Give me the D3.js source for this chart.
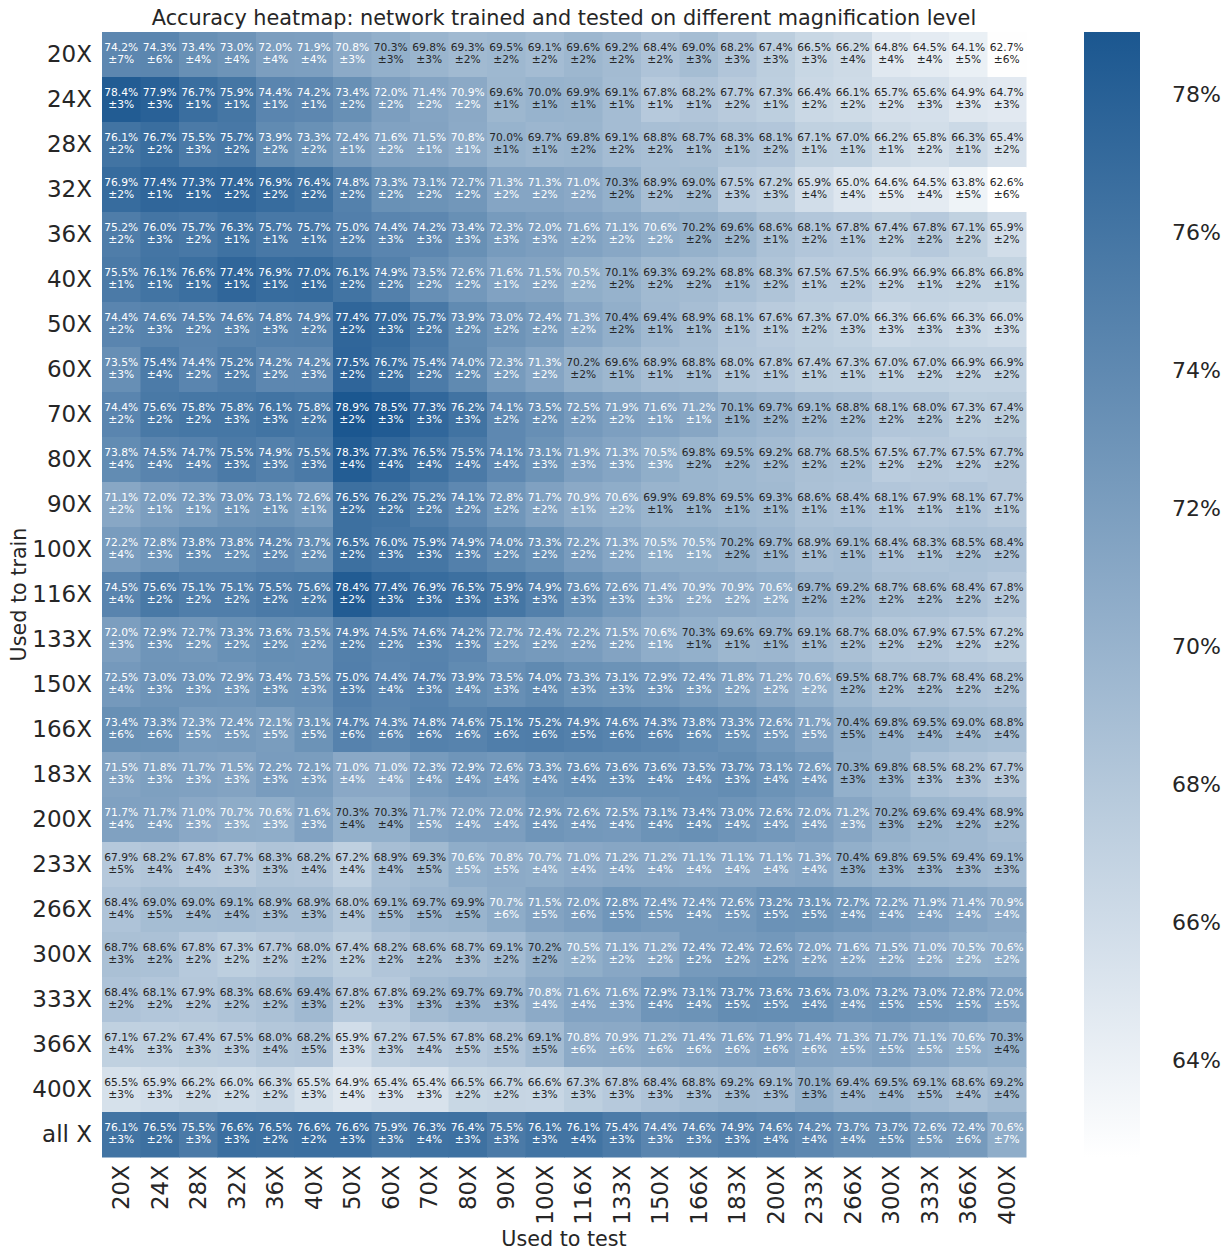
<!DOCTYPE html>
<html>
<head>
<meta charset="utf-8">
<script src="https://cdn.jsdelivr.net/npm/d3@7/dist/d3.min.js"></script>
<style>
    body { margin: 0; background: #fff; }
    text { font-family: "DejaVu Sans", sans-serif; }
</style>
</head>
<body>
<svg id="chart" width="1231" height="1252"></svg>
<script>
// 行: 训练倍率, 列: 测试倍率
var trainLabels = ['20X', '24X', '28X', '32X', '36X', '40X', '50X', '60X', '70X', '80X', '90X', '100X', '116X',
    '133X', '150X', '166X', '183X', '200X', '233X', '266X', '300X', '333X', '366X', '400X', 'all X'];
var testLabels = ['20X', '24X', '28X', '32X', '36X', '40X', '50X', '60X', '70X', '80X', '90X', '100X', '116X',
    '133X', '150X', '166X', '183X', '200X', '233X', '266X', '300X', '333X', '366X', '400X'];

// 平均准确率 (%)
var meanAcc = [
    [74.2, 74.3, 73.4, 73.0, 72.0, 71.9, 70.8, 70.3, 69.8, 69.3, 69.5, 69.1, 69.6, 69.2, 68.4, 69.0, 68.2, 67.4, 66.5, 66.2, 64.8, 64.5, 64.1, 62.7],
    [78.4, 77.9, 76.7, 75.9, 74.4, 74.2, 73.4, 72.0, 71.4, 70.9, 69.6, 70.0, 69.9, 69.1, 67.8, 68.2, 67.7, 67.3, 66.4, 66.1, 65.7, 65.6, 64.9, 64.7],
    [76.1, 76.7, 75.5, 75.7, 73.9, 73.3, 72.4, 71.6, 71.5, 70.8, 70.0, 69.7, 69.8, 69.1, 68.8, 68.7, 68.3, 68.1, 67.1, 67.0, 66.2, 65.8, 66.3, 65.4],
    [76.9, 77.4, 77.3, 77.4, 76.9, 76.4, 74.8, 73.3, 73.1, 72.7, 71.3, 71.3, 71.0, 70.3, 68.9, 69.0, 67.5, 67.2, 65.9, 65.0, 64.6, 64.5, 63.8, 62.6],
    [75.2, 76.0, 75.7, 76.3, 75.7, 75.7, 75.0, 74.4, 74.2, 73.4, 72.3, 72.0, 71.6, 71.1, 70.6, 70.2, 69.6, 68.6, 68.1, 67.8, 67.4, 67.8, 67.1, 65.9],
    [75.5, 76.1, 76.6, 77.4, 76.9, 77.0, 76.1, 74.9, 73.5, 72.6, 71.6, 71.5, 70.5, 70.1, 69.3, 69.2, 68.8, 68.3, 67.5, 67.5, 66.9, 66.9, 66.8, 66.8],
    [74.4, 74.6, 74.5, 74.6, 74.8, 74.9, 77.4, 77.0, 75.7, 73.9, 73.0, 72.4, 71.3, 70.4, 69.4, 68.9, 68.1, 67.6, 67.3, 67.0, 66.3, 66.6, 66.3, 66.0],
    [73.5, 75.4, 74.4, 75.2, 74.2, 74.2, 77.5, 76.7, 75.4, 74.0, 72.3, 71.3, 70.2, 69.6, 68.9, 68.8, 68.0, 67.8, 67.4, 67.3, 67.0, 67.0, 66.9, 66.9],
    [74.4, 75.6, 75.8, 75.8, 76.1, 75.8, 78.9, 78.5, 77.3, 76.2, 74.1, 73.5, 72.5, 71.9, 71.6, 71.2, 70.1, 69.7, 69.1, 68.8, 68.1, 68.0, 67.3, 67.4],
    [73.8, 74.5, 74.7, 75.5, 74.9, 75.5, 78.3, 77.3, 76.5, 75.5, 74.1, 73.1, 71.9, 71.3, 70.5, 69.8, 69.5, 69.2, 68.7, 68.5, 67.5, 67.7, 67.5, 67.7],
    [71.1, 72.0, 72.3, 73.0, 73.1, 72.6, 76.5, 76.2, 75.2, 74.1, 72.8, 71.7, 70.9, 70.6, 69.9, 69.8, 69.5, 69.3, 68.6, 68.4, 68.1, 67.9, 68.1, 67.7],
    [72.2, 72.8, 73.8, 73.8, 74.2, 73.7, 76.5, 76.0, 75.9, 74.9, 74.0, 73.3, 72.2, 71.3, 70.5, 70.5, 70.2, 69.7, 68.9, 69.1, 68.4, 68.3, 68.5, 68.4],
    [74.5, 75.6, 75.1, 75.1, 75.5, 75.6, 78.4, 77.4, 76.9, 76.5, 75.9, 74.9, 73.6, 72.6, 71.4, 70.9, 70.9, 70.6, 69.7, 69.2, 68.7, 68.6, 68.4, 67.8],
    [72.0, 72.9, 72.7, 73.3, 73.6, 73.5, 74.9, 74.5, 74.6, 74.2, 72.7, 72.4, 72.2, 71.5, 70.6, 70.3, 69.6, 69.7, 69.1, 68.7, 68.0, 67.9, 67.5, 67.2],
    [72.5, 73.0, 73.0, 72.9, 73.4, 73.5, 75.0, 74.4, 74.7, 73.9, 73.5, 74.0, 73.3, 73.1, 72.9, 72.4, 71.8, 71.2, 70.6, 69.5, 68.7, 68.7, 68.4, 68.2],
    [73.4, 73.3, 72.3, 72.4, 72.1, 73.1, 74.7, 74.3, 74.8, 74.6, 75.1, 75.2, 74.9, 74.6, 74.3, 73.8, 73.3, 72.6, 71.7, 70.4, 69.8, 69.5, 69.0, 68.8],
    [71.5, 71.8, 71.7, 71.5, 72.2, 72.1, 71.0, 71.0, 72.3, 72.9, 72.6, 73.3, 73.6, 73.6, 73.6, 73.5, 73.7, 73.1, 72.6, 70.3, 69.8, 68.5, 68.2, 67.7],
    [71.7, 71.7, 71.0, 70.7, 70.6, 71.6, 70.3, 70.3, 71.7, 72.0, 72.0, 72.9, 72.6, 72.5, 73.1, 73.4, 73.0, 72.6, 72.0, 71.2, 70.2, 69.6, 69.4, 68.9],
    [67.9, 68.2, 67.8, 67.7, 68.3, 68.2, 67.2, 68.9, 69.3, 70.6, 70.8, 70.7, 71.0, 71.2, 71.2, 71.1, 71.1, 71.1, 71.3, 70.4, 69.8, 69.5, 69.4, 69.1],
    [68.4, 69.0, 69.0, 69.1, 68.9, 68.9, 68.0, 69.1, 69.7, 69.9, 70.7, 71.5, 72.0, 72.8, 72.4, 72.4, 72.6, 73.2, 73.1, 72.7, 72.2, 71.9, 71.4, 70.9],
    [68.7, 68.6, 67.8, 67.3, 67.7, 68.0, 67.4, 68.2, 68.6, 68.7, 69.1, 70.2, 70.5, 71.1, 71.2, 72.4, 72.4, 72.6, 72.0, 71.6, 71.5, 71.0, 70.5, 70.6],
    [68.4, 68.1, 67.9, 68.3, 68.6, 69.4, 67.8, 67.8, 69.2, 69.7, 69.7, 70.8, 71.6, 71.6, 72.9, 73.1, 73.7, 73.6, 73.6, 73.0, 73.2, 73.0, 72.8, 72.0],
    [67.1, 67.2, 67.4, 67.5, 68.0, 68.2, 65.9, 67.2, 67.5, 67.8, 68.2, 69.1, 70.8, 70.9, 71.2, 71.4, 71.6, 71.9, 71.4, 71.3, 71.7, 71.1, 70.6, 70.3],
    [65.5, 65.9, 66.2, 66.0, 66.3, 65.5, 64.9, 65.4, 65.4, 66.5, 66.7, 66.6, 67.3, 67.8, 68.4, 68.8, 69.2, 69.1, 70.1, 69.4, 69.5, 69.1, 68.6, 69.2],
    [76.1, 76.5, 75.5, 76.6, 76.5, 76.6, 76.6, 75.9, 76.3, 76.4, 75.5, 76.1, 76.1, 75.4, 74.4, 74.6, 74.9, 74.6, 74.2, 73.7, 73.7, 72.6, 72.4, 70.6]
];

// 标准差 (%)
var stdAcc = [
    [7, 6, 4, 4, 4, 4, 3, 3, 3, 2, 2, 2, 2, 2, 2, 3, 3, 3, 3, 4, 4, 4, 5, 6],
    [3, 3, 1, 1, 1, 1, 2, 2, 2, 2, 1, 1, 1, 1, 1, 1, 2, 1, 2, 2, 2, 3, 3, 3],
    [2, 2, 3, 2, 2, 2, 1, 2, 1, 1, 1, 1, 2, 2, 2, 1, 1, 2, 1, 1, 1, 2, 1, 2],
    [2, 1, 1, 2, 2, 2, 2, 2, 2, 2, 2, 2, 2, 2, 2, 2, 3, 3, 4, 4, 5, 4, 5, 6],
    [2, 3, 2, 1, 1, 1, 2, 3, 3, 3, 3, 3, 2, 2, 2, 2, 2, 1, 2, 1, 2, 2, 2, 2],
    [1, 1, 1, 1, 1, 1, 2, 2, 2, 2, 1, 2, 2, 2, 2, 2, 1, 2, 1, 2, 2, 1, 2, 1],
    [2, 3, 2, 3, 3, 2, 2, 3, 2, 2, 2, 2, 2, 2, 1, 1, 1, 1, 2, 3, 3, 3, 3, 3],
    [3, 4, 2, 2, 2, 3, 2, 2, 2, 2, 2, 2, 2, 1, 1, 1, 1, 1, 1, 1, 1, 2, 2, 2],
    [2, 2, 2, 3, 3, 2, 2, 3, 3, 3, 2, 2, 2, 2, 1, 1, 1, 2, 2, 2, 2, 2, 2, 2],
    [4, 4, 4, 3, 3, 3, 4, 4, 4, 4, 4, 3, 3, 3, 3, 2, 2, 2, 2, 2, 2, 2, 2, 2],
    [2, 1, 1, 1, 1, 1, 2, 2, 2, 2, 2, 2, 1, 2, 1, 1, 1, 1, 1, 1, 1, 1, 1, 1],
    [4, 3, 3, 2, 2, 2, 2, 3, 3, 3, 2, 2, 2, 2, 1, 1, 2, 1, 1, 1, 1, 1, 2, 2],
    [4, 2, 2, 2, 2, 2, 2, 3, 3, 3, 3, 3, 3, 3, 3, 2, 2, 2, 2, 2, 2, 2, 2, 2],
    [3, 3, 2, 2, 2, 2, 2, 2, 3, 3, 2, 2, 2, 2, 1, 1, 1, 1, 1, 2, 2, 2, 2, 2],
    [4, 3, 3, 3, 3, 3, 3, 4, 3, 4, 3, 4, 3, 3, 3, 3, 2, 2, 2, 2, 2, 2, 2, 2],
    [6, 6, 5, 5, 5, 5, 6, 6, 6, 6, 6, 6, 5, 6, 6, 6, 5, 5, 5, 5, 4, 4, 4, 4],
    [3, 3, 3, 3, 3, 3, 4, 4, 4, 4, 4, 4, 4, 3, 4, 4, 3, 4, 4, 3, 3, 3, 3, 3],
    [4, 4, 3, 3, 3, 3, 4, 4, 5, 4, 4, 4, 4, 4, 4, 4, 4, 4, 4, 3, 3, 2, 2, 2],
    [5, 4, 4, 3, 3, 4, 4, 4, 5, 5, 5, 4, 4, 4, 4, 4, 4, 4, 4, 3, 3, 3, 3, 3],
    [4, 5, 4, 4, 3, 3, 4, 5, 5, 5, 6, 5, 6, 5, 5, 4, 5, 5, 5, 4, 4, 4, 4, 4],
    [3, 2, 2, 2, 2, 2, 2, 2, 2, 3, 2, 2, 2, 2, 2, 2, 2, 2, 2, 2, 2, 2, 2, 2],
    [2, 2, 2, 2, 2, 3, 2, 3, 3, 3, 3, 4, 4, 3, 4, 4, 5, 5, 4, 4, 5, 5, 5, 5],
    [4, 3, 3, 3, 4, 5, 3, 3, 4, 5, 5, 5, 6, 6, 6, 6, 6, 6, 6, 5, 5, 5, 5, 4],
    [3, 3, 2, 2, 2, 3, 4, 3, 3, 2, 2, 3, 3, 3, 3, 3, 3, 3, 3, 4, 4, 5, 4, 4],
    [3, 2, 3, 3, 2, 2, 3, 3, 4, 3, 3, 3, 4, 3, 3, 3, 3, 4, 4, 4, 5, 5, 6, 7]
];

// 色条刻度
var cbarTicks = [64, 66, 68, 70, 72, 74, 76, 78];

var svg = d3.select('#chart');
// 绘图区边界 (不要用 top 作为全局变量名)
var plotLeft = 102, plotRight = 1026, plotTop = 32, plotBottom = 1157;

var x = d3.scaleBand().domain(testLabels).range([plotLeft, plotRight]);
var y = d3.scaleBand().domain(trainLabels).range([plotTop, plotBottom]);

var allVals = d3.merge(meanAcc);
var vmin = d3.min(allVals), vmax = d3.max(allVals);
var color = d3.scaleLinear()
    .domain([vmin, vmax])
    .range(['#ffffff', '#1b5790'])
    .interpolate(d3.interpolateRgb);

// 相对亮度, 决定文字颜色
function luminance(c) {
    var rgb = d3.rgb(c);
    var lin = [rgb.r, rgb.g, rgb.b].map(function(v) {
        v = v / 255;
        return v <= 0.03928 ? v / 12.92 : Math.pow((v + 0.055) / 1.055, 2.4);
    });
    return 0.2126 * lin[0] + 0.7152 * lin[1] + 0.0722 * lin[2];
}

var cells = [];
meanAcc.forEach(function(row, i) {
    row.forEach(function(v, j) {
        cells.push({train: trainLabels[i], test: testLabels[j], value: v, std: stdAcc[i][j]});
    });
});

// 格子
svg.append('g')
    .selectAll('rect')
    .data(cells)
    .enter()
    .append('rect')
    .attr('x', function(d) { return x(d.test); })
    .attr('y', function(d) { return y(d.train); })
    .attr('width', x.bandwidth() + 0.5)
    .attr('height', y.bandwidth() + 0.5)
    .attr('fill', function(d) { return color(d.value); });

// 注释文字
var labels = svg.append('g')
    .selectAll('text')
    .data(cells)
    .enter()
    .append('text')
    .attr('text-anchor', 'middle')
    .style('font-size', '10.7px')
    .attr('fill', function(d) {
        return luminance(color(d.value)) > 0.408 ? '#262626' : '#ffffff';
    });
labels.append('tspan')
    .attr('x', function(d) { return x(d.test) + x.bandwidth() / 2; })
    .attr('y', function(d) { return y(d.train) + y.bandwidth() / 2 - 7.5; })
    .attr('dy', '0.35em')
    .text(function(d) { return d.value.toFixed(1) + '%'; });
labels.append('tspan')
    .attr('x', function(d) { return x(d.test) + x.bandwidth() / 2; })
    .attr('y', function(d) { return y(d.train) + y.bandwidth() / 2 + 5; })
    .attr('dy', '0.35em')
    .text(function(d) { return '\u00b1' + d.std + '%'; });

// 坐标轴
var xAxis = svg.append('g')
    .attr('transform', 'translate(0,' + plotBottom + ')')
    .call(d3.axisBottom(x).tickSize(0).tickPadding(0));
xAxis.select('.domain').remove();
xAxis.selectAll('text')
    .attr('transform', 'rotate(-90)')
    .attr('x', -8)
    .attr('y', 0)
    .attr('dy', '0.35em')
    .style('text-anchor', 'end')
    .style('font-size', '23px')
    .attr('fill', '#262626');

var yAxis = svg.append('g')
    .attr('transform', 'translate(' + plotLeft + ',0)')
    .call(d3.axisLeft(y).tickSize(0).tickPadding(10));
yAxis.select('.domain').remove();
yAxis.selectAll('text')
    .style('font-size', '23px')
    .attr('fill', '#262626');

// 标题和轴标签
svg.append('text')
    .attr('x', (plotLeft + plotRight) / 2)
    .attr('y', 25)
    .attr('text-anchor', 'middle')
    .style('font-size', '20.8px')
    .attr('fill', '#262626')
    .text('Accuracy heatmap: network trained and tested on different magnification level');

svg.append('text')
    .attr('x', (plotLeft + plotRight) / 2)
    .attr('y', 1246)
    .attr('text-anchor', 'middle')
    .style('font-size', '20.7px')
    .attr('fill', '#262626')
    .text('Used to test');

svg.append('text')
    .attr('transform', 'translate(26,' + (plotTop + plotBottom) / 2 + ') rotate(-90)')
    .attr('text-anchor', 'middle')
    .style('font-size', '20.7px')
    .attr('fill', '#262626')
    .text('Used to train');

// 色条
var cbX = 1084, cbW = 56;
var cbScale = d3.scaleLinear().domain([vmin, vmax]).range([plotBottom, plotTop]);
var defs = svg.append('defs');
var grad = defs.append('linearGradient')
    .attr('id', 'cbar-grad')
    .attr('x1', 0).attr('y1', 1).attr('x2', 0).attr('y2', 0);
d3.range(0, 1.01, 0.1).forEach(function(t) {
    grad.append('stop')
        .attr('offset', t)
        .attr('stop-color', color(vmin + t * (vmax - vmin)));
});
svg.append('rect')
    .attr('x', cbX)
    .attr('y', plotTop)
    .attr('width', cbW)
    .attr('height', plotBottom - plotTop)
    .attr('fill', 'url(#cbar-grad)');

var cbAxis = svg.append('g')
    .attr('transform', 'translate(' + (cbX + cbW) + ',0)')
    .call(d3.axisRight(cbScale).tickValues(cbarTicks).tickSize(0).tickPadding(32)
        .tickFormat(function(d) { return d + '%'; }));
cbAxis.select('.domain').remove();
cbAxis.selectAll('text')
    .style('font-size', '22px')
    .attr('fill', '#262626');
</script>
</body>
</html>
